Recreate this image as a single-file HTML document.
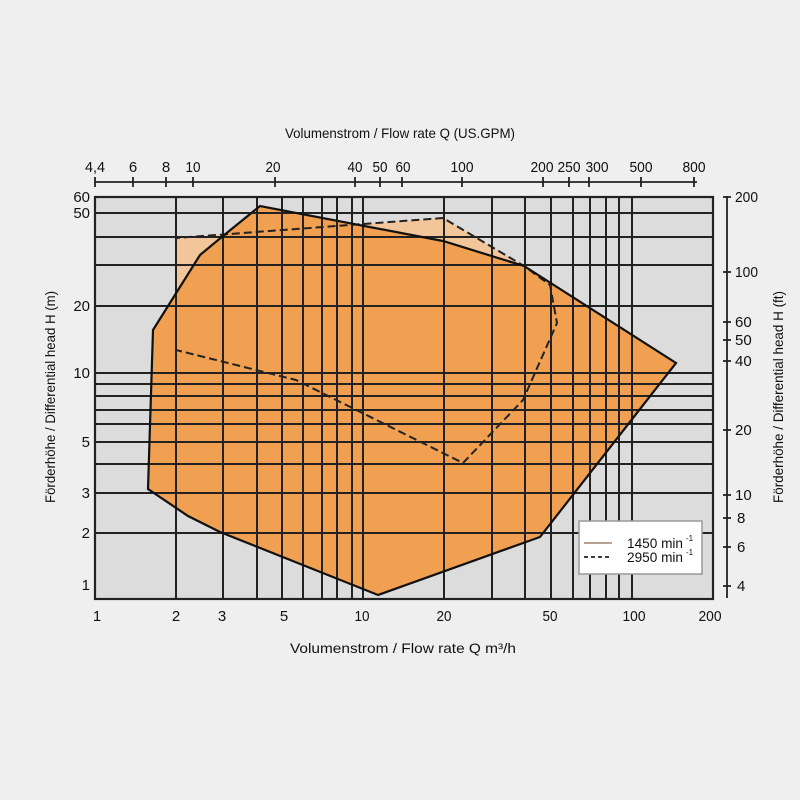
<!DOCTYPE html>
<html><head><meta charset="utf-8"><style>
body{margin:0;background:#efefef;}
svg{display:block;font-family:"Liberation Sans Narrow","Liberation Sans",sans-serif;}
</style></head><body>
<svg width="800" height="800" viewBox="0 0 800 800">
<rect width="800" height="800" fill="#efefef"/>
<rect x="95" y="197" width="618" height="402" fill="#dcdcdc"/>
<polygon points="176,238 443,218 524,266 550,285 557,323 523,400 463,463 296,380 176,350" fill="#f3c59a"/>
<polygon points="153,330 200,255 223,236 260,206 443,241 524,266 676,363 540,537 378,595 220,532 188,516 148,489" fill="#f0a050"/>
<g stroke="#222" stroke-width="2" fill="none">
<line x1="95" y1="213" x2="713" y2="213"/><line x1="95" y1="237" x2="713" y2="237"/>
<line x1="95" y1="265" x2="713" y2="265"/><line x1="95" y1="306" x2="713" y2="306"/>
<line x1="95" y1="373" x2="713" y2="373"/><line x1="95" y1="384" x2="713" y2="384"/>
<line x1="95" y1="396" x2="713" y2="396"/><line x1="95" y1="410" x2="713" y2="410"/>
<line x1="95" y1="424" x2="713" y2="424"/><line x1="95" y1="442" x2="713" y2="442"/>
<line x1="95" y1="464" x2="713" y2="464"/><line x1="95" y1="493" x2="713" y2="493"/>
<line x1="95" y1="533" x2="713" y2="533"/>
<line x1="176" y1="197" x2="176" y2="599"/><line x1="223" y1="197" x2="223" y2="599"/>
<line x1="257" y1="197" x2="257" y2="599"/><line x1="282" y1="197" x2="282" y2="599"/>
<line x1="303" y1="197" x2="303" y2="599"/><line x1="322" y1="197" x2="322" y2="599"/>
<line x1="337" y1="197" x2="337" y2="599"/><line x1="352" y1="197" x2="352" y2="599"/>
<line x1="363" y1="197" x2="363" y2="599"/><line x1="444" y1="197" x2="444" y2="599"/>
<line x1="492" y1="197" x2="492" y2="599"/><line x1="525" y1="197" x2="525" y2="599"/>
<line x1="551" y1="197" x2="551" y2="599"/><line x1="573" y1="197" x2="573" y2="599"/>
<line x1="590" y1="197" x2="590" y2="599"/><line x1="606" y1="197" x2="606" y2="599"/>
<line x1="619" y1="197" x2="619" y2="599"/><line x1="632" y1="197" x2="632" y2="599"/>
<rect x="95" y="197" width="618" height="402" stroke-width="2.2"/>
</g>
<polyline points="176,350 176,238 443,218 524,266 550,285 557,323 523,400 463,463 296,380 176,350" fill="none" stroke="#222" stroke-width="2" stroke-dasharray="8,4"/>
<polygon points="153,330 200,255 223,236 260,206 443,241 524,266 676,363 540,537 378,595 220,532 188,516 148,489" fill="none" stroke="#111" stroke-width="2.2"/>
<rect x="579" y="521" width="123" height="53" fill="#fff" stroke="#999" stroke-width="1.5"/>
<line x1="584" y1="543" x2="612" y2="543" stroke="#a08070" stroke-width="1.5"/>
<line x1="584" y1="557" x2="612" y2="557" stroke="#222" stroke-width="1.8" stroke-dasharray="4,3"/>
<g font-size="14" fill="#111">
<text x="627" y="548" textLength="56" lengthAdjust="spacingAndGlyphs">1450  min</text><text x="686" y="541" font-size="8">-1</text>
<text x="627" y="562" textLength="56" lengthAdjust="spacingAndGlyphs">2950  min</text><text x="686" y="555" font-size="8">-1</text>
</g>
<g stroke="#222" stroke-width="1.8"><line x1="95" y1="182" x2="697" y2="182"/>
<line x1="95" y1="177" x2="95" y2="187"/><line x1="133" y1="177" x2="133" y2="187"/><line x1="166" y1="177" x2="166" y2="187"/><line x1="193" y1="177" x2="193" y2="187"/><line x1="275" y1="177" x2="275" y2="187"/><line x1="355" y1="177" x2="355" y2="187"/><line x1="380" y1="177" x2="380" y2="187"/><line x1="402" y1="177" x2="402" y2="187"/><line x1="462" y1="177" x2="462" y2="187"/><line x1="543" y1="177" x2="543" y2="187"/><line x1="569" y1="177" x2="569" y2="187"/><line x1="589" y1="177" x2="589" y2="187"/><line x1="641" y1="177" x2="641" y2="187"/><line x1="694" y1="177" x2="694" y2="187"/>
<line x1="727" y1="196" x2="727" y2="598"/>
<line x1="723" y1="197" x2="731" y2="197"/><line x1="723" y1="272" x2="731" y2="272"/><line x1="723" y1="322" x2="731" y2="322"/><line x1="723" y1="340" x2="731" y2="340"/><line x1="723" y1="361" x2="731" y2="361"/><line x1="723" y1="430" x2="731" y2="430"/><line x1="723" y1="495" x2="731" y2="495"/><line x1="723" y1="518" x2="731" y2="518"/><line x1="723" y1="547" x2="731" y2="547"/><line x1="723" y1="586" x2="731" y2="586"/>
</g>
<g font-size="15" fill="#111" text-anchor="middle">
<text x="95" y="172" textLength="20" lengthAdjust="spacingAndGlyphs">4,4</text><text x="133" y="172">6</text><text x="166" y="172">8</text><text x="193" y="172" textLength="15" lengthAdjust="spacingAndGlyphs">10</text><text x="273" y="172" textLength="15" lengthAdjust="spacingAndGlyphs">20</text><text x="355" y="172" textLength="15" lengthAdjust="spacingAndGlyphs">40</text><text x="380" y="172" textLength="15" lengthAdjust="spacingAndGlyphs">50</text><text x="403" y="172" textLength="15" lengthAdjust="spacingAndGlyphs">60</text><text x="462" y="172" textLength="23" lengthAdjust="spacingAndGlyphs">100</text><text x="542" y="172" textLength="23" lengthAdjust="spacingAndGlyphs">200</text><text x="569" y="172" textLength="23" lengthAdjust="spacingAndGlyphs">250</text><text x="597" y="172" textLength="23" lengthAdjust="spacingAndGlyphs">300</text><text x="641" y="172" textLength="23" lengthAdjust="spacingAndGlyphs">500</text><text x="694" y="172" textLength="23" lengthAdjust="spacingAndGlyphs">800</text>
<text x="97" y="621">1</text><text x="176" y="621">2</text><text x="222" y="621">3</text><text x="284" y="621">5</text><text x="362" y="621" textLength="15" lengthAdjust="spacingAndGlyphs">10</text><text x="444" y="621" textLength="15" lengthAdjust="spacingAndGlyphs">20</text><text x="550" y="621" textLength="15" lengthAdjust="spacingAndGlyphs">50</text><text x="634" y="621" textLength="23" lengthAdjust="spacingAndGlyphs">100</text><text x="710" y="621" textLength="23" lengthAdjust="spacingAndGlyphs">200</text>
<text x="400" y="138" font-size="14" textLength="230" lengthAdjust="spacingAndGlyphs">Volumenstrom / Flow rate Q (US.GPM)</text>
<text x="403" y="653" font-size="14" textLength="226" lengthAdjust="spacingAndGlyphs">Volumenstrom / Flow rate Q m³/h</text>
</g>
<g font-size="15" fill="#111" text-anchor="end">
<text x="90" y="202">60</text><text x="90" y="218">50</text><text x="90" y="311">20</text><text x="90" y="378">10</text><text x="90" y="447">5</text><text x="90" y="498">3</text><text x="90" y="538">2</text><text x="90" y="590">1</text>
</g>
<g font-size="15" fill="#111">
<text x="735" y="202" textLength="23" lengthAdjust="spacingAndGlyphs">200</text><text x="735" y="277" textLength="23" lengthAdjust="spacingAndGlyphs">100</text><text x="735" y="327">60</text><text x="735" y="345">50</text><text x="735" y="366">40</text><text x="735" y="435">20</text><text x="735" y="500">10</text><text x="737" y="523">8</text><text x="737" y="552">6</text><text x="737" y="591">4</text>
</g>
<text transform="translate(55,397) rotate(-90)" font-size="14" text-anchor="middle" fill="#111" textLength="212" lengthAdjust="spacingAndGlyphs">Förderhöhe / Differential head H (m)</text>
<text transform="translate(783,397) rotate(-90)" font-size="14" text-anchor="middle" fill="#111" textLength="212" lengthAdjust="spacingAndGlyphs">Förderhöhe / Differential head H (ft)</text>
</svg>
</body></html>
